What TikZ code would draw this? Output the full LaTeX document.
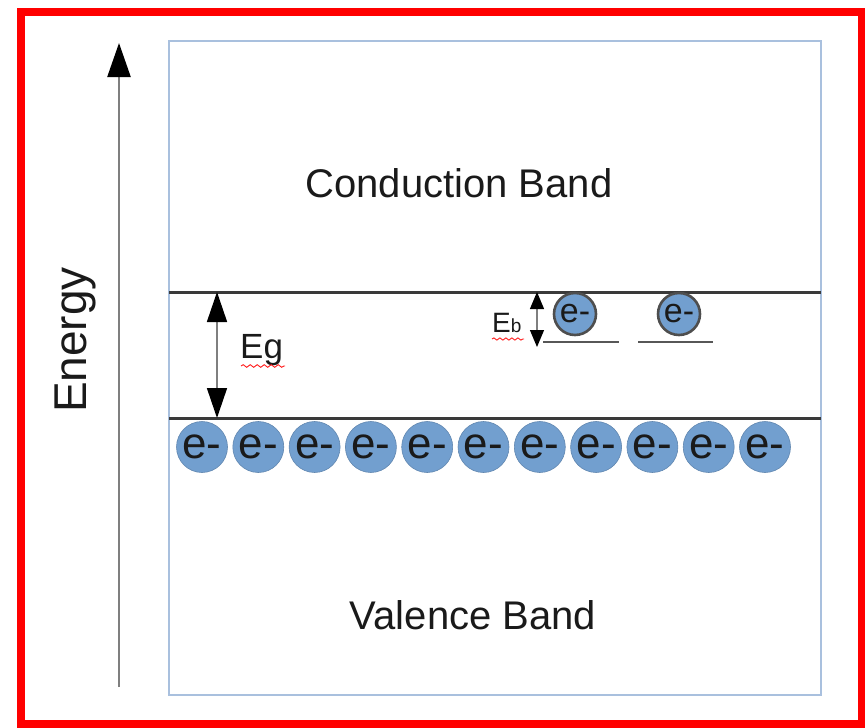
\documentclass[tikz,border=0pt]{standalone}
\usepackage{fontspec}
\setmainfont{Liberation Sans}
\usetikzlibrary{arrows.meta,decorations.pathmorphing}
\definecolor{framered}{HTML}{FF0000}
\definecolor{boxline}{HTML}{A9C0DE}
\definecolor{levelgray}{HTML}{3A3A3A}
\definecolor{electron}{HTML}{729FCF}
\definecolor{shaftgray}{HTML}{7F7F7F}
\definecolor{inkgray}{HTML}{1A1A1A}
\newcommand{\fs}[1]{\fontsize{#1}{#1}\selectfont}
\begin{document}
\begin{tikzpicture}[x=1pt,y=-1pt,
  lbl/.style={inner sep=0pt,text=inkgray},
  bandline/.style={levelgray,line width=3pt},
  shaftline/.style={shaftgray,line width=1.6pt},
  freeel/.style={circle,inner sep=0pt,minimum size=51pt,fill=electron,
    draw=electron!85!black,line width=0.6pt,text=inkgray,font=\fs{44}},
  boundel/.style={circle,inner sep=0pt,minimum size=42pt,fill=electron,
    draw=levelgray!90,line width=2.6pt,text=inkgray,font=\fs{34}},
  donorline/.style={levelgray!85,line width=1.4pt},
  spell/.style={red!90,line width=0.9pt,decorate,
    decoration={snake,amplitude=1.3pt,segment length=7pt}}
]
\useasboundingbox (0,0) rectangle (865,728);

% outer frame and band diagram box
\draw[framered,line width=7.5pt] (21,12) rectangle (862,724);
\draw[boxline,line width=1.5pt] (169,41) rectangle (821,695);

% energy axis
\coordinate (axBot) at (119,687);
\coordinate (axTop) at (119,43);
\draw[shaftline,line width=2.4pt,-{Triangle[width=23pt,length=34pt,black]}] (axBot) -- (axTop);
\node[lbl,rotate=90,anchor=base,font=\fs{46}] (energy) at (86,340) {Energy};

% band edges
\coordinate (cbL) at (169,292);
\coordinate (cbR) at (821,292);
\coordinate (vbL) at (169,418);
\coordinate (vbR) at (821,418);
\draw[bandline] (cbL) -- (cbR);
\draw[bandline] (vbL) -- (vbR);

% band labels
\node[lbl,anchor=base,font=\fs{40}] (cb) at (459,197) {Conduction Band};
\node[lbl,anchor=base,font=\fs{40}] (vb) at (473,629) {Valence Band};

% band gap
\coordinate (egTop) at (217,292);
\coordinate (egBot) at (217,418);
\draw[shaftline,{Triangle[width=20pt,length=30pt,black]}-{Triangle[width=20pt,length=30pt,black]}] (egTop) -- (egBot);
\node[lbl,anchor=base west,font=\fs{35}] (eg) at (240,358) {Eg};
\draw[spell] (eg.base west) ++(1,8) coordinate (egw1) -- ++(44,0) coordinate (egw2);

% donor levels with bound electrons
\coordinate (d1L) at (543,342);
\coordinate (d1R) at (619,342);
\coordinate (d2L) at (638,342);
\coordinate (d2R) at (713,342);
\draw[donorline] (d1L) -- (d1R);
\draw[donorline] (d2L) -- (d2R);
\node[boundel] (b1) at (575,314) {e-};
\node[boundel] (b2) at (679,314) {e-};

% binding energy
\coordinate (ebTop) at (537,292);
\coordinate (ebBot) at (537,347);
\draw[shaftline,line width=1.2pt,{Triangle[width=14pt,length=17pt,black]}-{Triangle[width=14pt,length=17pt,black]}] (ebTop) -- (ebBot);
\node[lbl,anchor=base west] (eb) at (492,332) {\fs{28}E\fs{19}b};
\draw[spell,decoration={snake,amplitude=1.1pt,segment length=6pt}] (eb.base west) ++(0,7) coordinate (ebw1) -- ++(32,0) coordinate (ebw2);

% valence band electrons
\foreach \i in {0,...,10}
  \node[freeel] (v\i) at ({202+56.3*\i},447) {e-};
\end{tikzpicture}
\end{document}
